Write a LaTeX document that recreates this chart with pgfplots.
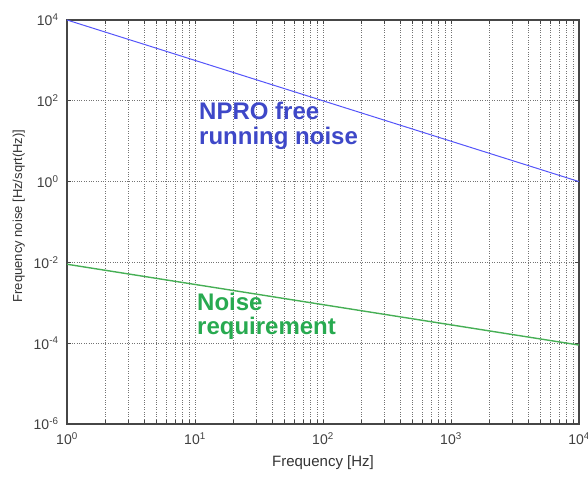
\documentclass[border=0pt]{standalone}
\usepackage{fontspec}
\setmainfont{Liberation Sans}
\usepackage{pgfplots}
\pgfplotsset{compat=1.18}
\definecolor{lineblue}{RGB}{85,85,250}
\definecolor{textblue}{RGB}{62,72,200}
\definecolor{linegreen}{RGB}{70,175,85}
\definecolor{textgreen}{RGB}{40,170,80}
\definecolor{axgray}{RGB}{70,70,70}
\begin{document}
\begin{tikzpicture}[x=1pt,y=1pt]
\useasboundingbox (0,0) rectangle (588,476);
\begin{axis}[
  at={(67pt,52pt)}, anchor=south west,
  width=512pt, height=404pt, scale only axis,
  xmode=log, ymode=log,
  xmin=1, xmax=1e4, ymin=1e-6, ymax=1e4,
  xtick={1,10,100,1000,10000},
  xticklabels={10\textsuperscript{0},10\textsuperscript{1},10\textsuperscript{2},10\textsuperscript{3},10\textsuperscript{4}},
  minor xtick={2,3,4,5,6,7,8,9,20,30,40,50,60,70,80,90,200,300,400,500,600,700,800,900,2000,3000,4000,5000,6000,7000,8000,9000},
  ytick={1e-6,1e-4,1e-2,1,1e2,1e4},
  yticklabels={10\textsuperscript{-6},10\textsuperscript{-4},10\textsuperscript{-2},10\textsuperscript{0},10\textsuperscript{2},10\textsuperscript{4}},
  minor ytick={},
  xmajorgrids, xminorgrids, ymajorgrids,
  grid style={dotted, line width=0.9pt, black!55},
  tick align=inside,
  tick style={axgray, line width=0.9pt},
  major tick length=4pt, minor tick length=4pt,
  axis line style={axgray, line width=1.2pt},
  tick label style={font=\fontsize{14}{14}\selectfont, text=black!75},
  xticklabel style={yshift=-5pt},
  yticklabel style={xshift=-5pt},
  xlabel={Frequency [Hz]},
  ylabel={Frequency noise [Hz/sqrt(Hz)]},
  xlabel style={at={(axis description cs:0.5,-0.1064)}, anchor=base, font=\fontsize{15}{15}\selectfont, text=black!80},
  ylabel style={at={(axis description cs:-0.094,0.515)}, anchor=center, font=\fontsize{13}{13}\selectfont, text=black!80},
]
\addplot[lineblue, line width=1pt] coordinates {(1,1e4) (1e4,1)};
\addplot[linegreen, line width=1.4pt] coordinates {(1,0.009) (1e4,0.00009)};
\end{axis}
\begin{scope}[every node/.style={anchor=base west, inner sep=0pt, font=\fontsize{24}{24}\selectfont\bfseries}]
\node[text=textblue] at (199,356) {NPRO free};
\node[text=textblue] at (199,331) {running noise};
\node[text=textgreen] at (197,165) {Noise};
\node[text=textgreen] at (197,141) {requirement};
\end{scope}
\end{tikzpicture}
\end{document}
